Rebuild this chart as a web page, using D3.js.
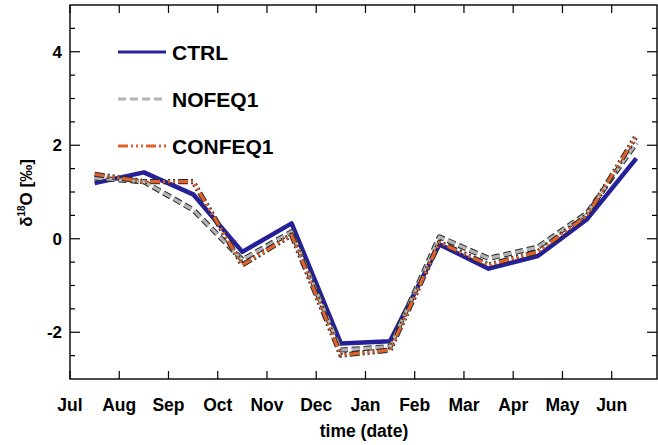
<!DOCTYPE html>
<html>
<head>
<meta charset="utf-8">
<script src="https://cdn.jsdelivr.net/npm/d3@7"></script>
<style>
  body { margin: 0; background: #fff; }
  text { font-family: "Liberation Sans", Arial, sans-serif; font-weight: bold; fill: #000; }
</style>
</head>
<body>
<svg id="chart" width="658" height="445"></svg>
<script>
"use strict";
// month labels along the x axis (tick at start of each month)
var months = ["Jul","Aug","Sep","Oct","Nov","Dec","Jan","Feb","Mar","Apr","May","Jun"];
var yTicks = [-2, 0, 2, 4];

// monthly mean d18O values (mid-month)
var ctrl    = [1.19, 1.42, 0.95, -0.28, 0.33, -2.24, -2.19, -0.12, -0.64, -0.37, 0.42, 1.72];
var nofeq1  = [1.30, 1.22, 0.62, -0.45, 0.15, -2.38, -2.31, 0.04, -0.42, -0.18, 0.55, 2.05];
var confeq1 = [1.38, 1.22, 1.22, -0.56, 0.08, -2.49, -2.38, -0.08, -0.56, -0.28, 0.50, 2.20];

var series = [
  { name: "CTRL",    values: ctrl,    color: "#26209a", dash: null,                 outline: false, width: 4.5 },
  { name: "NOFEQ1",  values: nofeq1,  color: "#b4b4b4", dash: "8,4",                outline: true,  width: 3.2 },
  { name: "CONFEQ1", values: confeq1, color: "#e0612a", dash: "10,3,2,3,2,3,2,3",   outline: true,  width: 3.2 }
];

var margin = { left: 70, top: 5, right: 657, bottom: 379 };
var svg = d3.select("#chart");

var x = d3.scaleLinear().domain([0, 11.92]).range([margin.left, margin.right]);
var y = d3.scaleLinear().domain([-3, 5]).range([margin.bottom, margin.top]);

svg.append("clipPath").attr("id", "plotclip")
  .append("rect")
  .attr("x", margin.left).attr("y", margin.top)
  .attr("width", margin.right - margin.left).attr("height", margin.bottom - margin.top);

var line = d3.line()
  .x(function (d, i) { return x(i + 0.5); })
  .y(function (d) { return y(d); });

var plot = svg.append("g").attr("clip-path", "url(#plotclip)");

series.forEach(function (s) {
  if (s.outline) {
    plot.append("path")
      .attr("d", line(s.values))
      .attr("fill", "none")
      .attr("stroke", "#2a2a2a")
      .attr("stroke-width", s.width + 2)
      .attr("stroke-dasharray", s.dash)
      .attr("stroke-linejoin", "round");
  }
  plot.append("path")
    .attr("d", line(s.values))
    .attr("fill", "none")
    .attr("stroke", s.color)
    .attr("stroke-width", s.width)
    .attr("stroke-dasharray", s.dash)
    .attr("stroke-linejoin", "round");
});

// frame
svg.append("rect")
  .attr("x", margin.left).attr("y", margin.top)
  .attr("width", margin.right - margin.left).attr("height", margin.bottom - margin.top)
  .attr("fill", "none").attr("stroke", "#000").attr("stroke-width", 1.4);

// x axis ticks (inward, bottom and top)
var xt = svg.append("g").attr("stroke", "#000").attr("stroke-width", 1.2);
months.forEach(function (m, i) {
  xt.append("line").attr("x1", x(i)).attr("x2", x(i)).attr("y1", margin.bottom).attr("y2", margin.bottom - 8);
  xt.append("line").attr("x1", x(i)).attr("x2", x(i)).attr("y1", margin.top).attr("y2", margin.top + 8);
});
svg.append("g").selectAll("text").data(months).join("text")
  .attr("x", function (d, i) { return x(i); })
  .attr("y", 411)
  .attr("text-anchor", "middle")
  .attr("font-size", 17.5)
  .text(function (d) { return d; });

svg.append("text")
  .attr("x", 364).attr("y", 437)
  .attr("text-anchor", "middle")
  .attr("font-size", 17.5)
  .text("time (date)");

// y axis ticks (major every 2, minor every 0.5), left and right
var yt = svg.append("g").attr("stroke", "#000").attr("stroke-width", 1.2);
d3.range(-2.5, 5, 0.5).forEach(function (v) {
  var len = (Math.abs(v % 2) < 1e-9) ? 10 : 5;
  yt.append("line").attr("x1", margin.left).attr("x2", margin.left + len).attr("y1", y(v)).attr("y2", y(v));
  yt.append("line").attr("x1", margin.right).attr("x2", margin.right - len).attr("y1", y(v)).attr("y2", y(v));
});
svg.append("g").selectAll("text").data(yTicks).join("text")
  .attr("x", 62)
  .attr("y", function (d) { return y(d); })
  .attr("dy", "0.36em")
  .attr("text-anchor", "end")
  .attr("font-size", 17)
  .text(function (d) { return d; });

// y title
var yl = svg.append("text")
  .attr("transform", "translate(32,193) rotate(-90)")
  .attr("text-anchor", "middle")
  .attr("font-size", 17);
yl.append("tspan").text("δ");
yl.append("tspan").attr("font-size", 10).attr("dy", -7).text("18");
yl.append("tspan").attr("dy", 7).text("O [‰]");

// legend
var legend = svg.append("g");
series.forEach(function (s, i) {
  var ly = 52 + i * 47;
  legend.append("line")
    .attr("x1", 118).attr("x2", 166).attr("y1", ly).attr("y2", ly)
    .attr("stroke", s.color).attr("stroke-width", 3)
    .attr("stroke-dasharray", s.dash);
  legend.append("text")
    .attr("x", 172).attr("y", ly)
    .attr("dy", "0.36em")
    .attr("font-size", 21)
    .text(s.name);
});
</script>
</body>
</html>
